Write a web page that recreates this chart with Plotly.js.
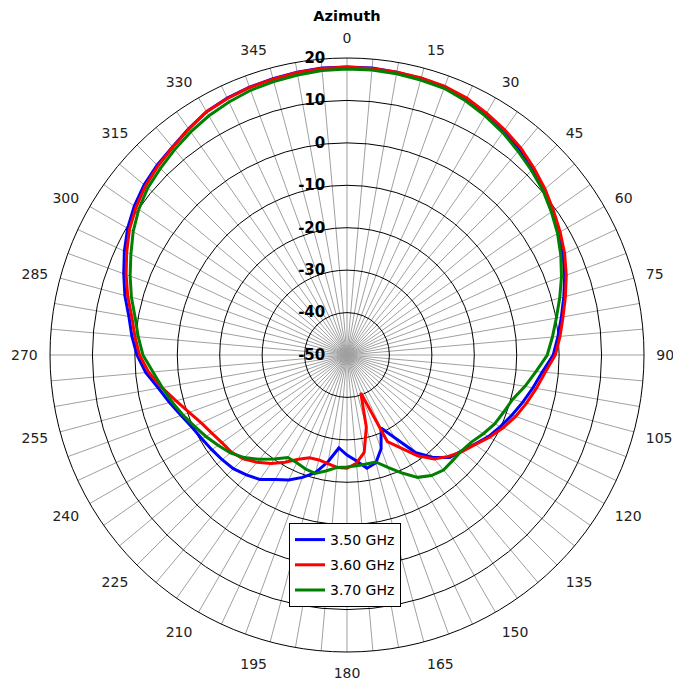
<!DOCTYPE html>
<html>
<head>
<meta charset="utf-8">
<script src="https://cdn.plot.ly/plotly-3.0.1.min.js"></script>
<style>html,body{margin:0;padding:0;background:#fff;}#chart{width:673px;height:685px;}</style>
</head>
<body>
<div id="chart"></div>
<script>
// Azimuth angles (degrees), 5-degree steps
const azimuth = [0,5,10,15,20,25,30,35,40,45,50,55,60,65,70,75,80,85,90,95,100,105,110,115,120,125,130,135,140,145,150,155,160,165,170,175,180,185,190,195,200,205,210,215,220,225,230,235,240,245,250,255,260,265,270,275,280,285,290,295,300,305,310,315,320,325,330,335,340,345,350,355];

const seriesNames = ["3.50 GHz", "3.60 GHz", "3.70 GHz"];

const gain350 = [17.9,17.9,17.7,17.5,17.3,16.6,15.6,14.5,13.3,12.0,10.7,9.2,7.7,6.2,4.6,2.9,1.3,-0.1,-1.4,-3.8,-5.5,-7.1,-8.6,-10.1,-11.5,-13.3,-14.8,-15.8,-18.5,-22.0,-27.5,-31.0,-26.5,-23.7,-22.9,-25.0,-26.4,-28.0,-24.5,-21.3,-19.3,-17.5,-16.1,-14.2,-13.1,-12.1,-11.6,-11.1,-10.5,-9.7,-8.4,-6.7,-4.9,-2.4,-0.5,0.9,2.2,4.2,6.0,7.9,9.7,11.2,12.4,13.3,14.0,15.1,16.2,16.8,17.2,17.4,17.7,17.9];

const gain360 = [17.9,17.8,17.7,17.6,17.4,16.8,15.8,14.8,13.7,12.3,10.9,9.4,8.0,6.6,5.0,3.3,1.7,0.4,-0.9,-3.1,-4.7,-6.2,-7.7,-9.4,-11.2,-13.2,-14.6,-16.2,-18.0,-21.0,-24.7,-27.5,-40.5,-32.4,-26.7,-24.4,-23.3,-23.4,-24.0,-24.4,-24.2,-22.9,-20.8,-18.8,-17.0,-15.4,-14.4,-14.0,-13.2,-12.1,-10.4,-8.3,-5.7,-3.1,-1.1,0.2,1.5,3.5,5.4,7.3,9.2,10.7,12.0,13.0,13.9,15.0,16.2,16.7,17.1,17.3,17.6,17.8];

const gain370 = [17.4,17.4,17.3,17.1,16.9,16.1,15.1,14.0,12.7,11.5,10.3,8.8,7.3,5.6,3.8,1.9,0.1,-1.4,-2.8,-5.3,-7.4,-9.6,-10.7,-11.6,-12.9,-14.2,-14.8,-14.8,-14.6,-15.3,-16.7,-19.3,-21.8,-23.9,-23.9,-23.8,-23.6,-23.4,-22.3,-21.1,-21.4,-22.0,-22.1,-20.1,-17.9,-15.8,-14.1,-12.9,-11.6,-10.3,-8.8,-7.3,-5.8,-4.1,-1.9,-0.6,0.7,2.6,4.4,6.2,8.2,9.9,11.3,12.2,13.2,14.2,15.1,15.8,16.4,16.7,17.0,17.3];

const seriesColors = ["#0000ff", "#ff0000", "#008000"];

// Angular grid every 5 degrees, labels every 15
const angleTickVals = azimuth;
const angleTickText = azimuth.map(a => (a % 15 === 0 ? String(a) : ""));

const radialTickVals = [-50,-40,-30,-20,-10,0,10,20];

function closed(arr){ return arr.concat([arr[0]]); }

const gains = [gain350, gain360, gain370];
const traces = gains.map((g, i) => ({
  type: "scatterpolar",
  mode: "lines",
  name: seriesNames[i],
  legendgroup: "g" + i,
  theta: closed(azimuth),
  r: closed(g),
  line: {color: seriesColors[i], width: 3},
  hoverinfo: "skip"
}));

const FONT = "DejaVu Sans, Verdana, sans-serif";

const layout = {
  width: 673,
  height: 685,
  paper_bgcolor: "#ffffff",
  plot_bgcolor: "#ffffff",
  margin: {l: 50, r: 29, t: 58, b: 33, pad: 0},
  font: {family: FONT, size: 14, color: "#000"},
  title: {
    text: "<b>Azimuth</b>",
    font: {family: FONT, size: 14.5, color: "#000"},
    x: 0.5, xref: "paper", xanchor: "center",
    y: 1 - 16/685, yref: "container", yanchor: "middle"
  },
  showlegend: true,
  legend: {
    x: (289 - 50) / 594, xanchor: "left",
    y: 1 - (523 - 58) / 594, yanchor: "top",
    bgcolor: "#ffffff",
    bordercolor: "#000000",
    borderwidth: 1,
    font: {family: FONT, size: 14, color: "#000"},
    traceorder: "grouped",
    tracegroupgap: 4
  },
  polar: {
    bgcolor: "#ffffff",
    domain: {x: [0, 1], y: [0, 1]},
    angularaxis: {
      rotation: 90,
      direction: "clockwise",
      tickmode: "array",
      tickvals: angleTickVals,
      ticktext: angleTickText,
      showline: true,
      linecolor: "#000000",
      linewidth: 1,
      showgrid: true,
      gridcolor: "#a0a0a0",
      gridwidth: 1,
      ticks: "outside",
      ticklen: 9,
      tickcolor: "rgba(0,0,0,0)",
      tickfont: {family: FONT, size: 14, color: "#222"}
    },
    radialaxis: {
      range: [-50, 20],
      tickmode: "array",
      tickvals: radialTickVals,
      ticktext: radialTickVals.map(String),
      angle: 90,
      tickangle: 90,
      side: "counterclockwise",
      showline: false,
      showgrid: true,
      gridcolor: "#000000",
      gridwidth: 1,
      ticks: "outside",
      ticklen: 16,
      tickcolor: "rgba(0,0,0,0)",
      tickfont: {family: FONT, size: 15, color: "#000", weight: 700},
      layer: "above traces"
    }
  }
};

Plotly.newPlot("chart", traces, layout, {displayModeBar: false, staticPlot: true});
</script>
</body>
</html>
